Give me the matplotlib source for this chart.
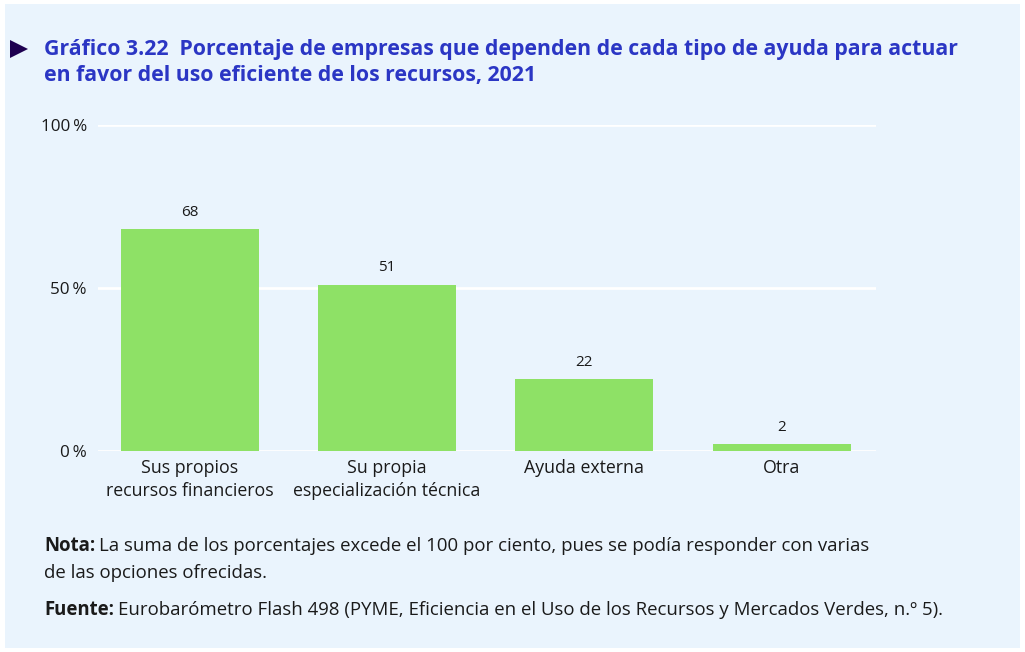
import numpy as np
import matplotlib.pyplot as plt
from matplotlib.patches import Rectangle, Polygon

plt.rcParams['font.family'] = ['Open Sans', 'DejaVu Sans']

# datos
categorias = ['Sus propios\nrecursos financieros', 'Su propia\nespecialización técnica',
              'Ayuda externa', 'Otra']
porcentajes = [68, 51, 22, 2]
ticks_y = [0, 50, 100]
etiquetas_y = ['0\u2009%', '50\u2009%', '100\u2009%']

fondo = '#EAF4FD'
verde = '#8EE166'
azul = '#2B36C4'
texto = '#1a1a1a'

fig = plt.figure(figsize=(10.25, 6.52), dpi=100)
fig.patch.set_facecolor('white')
# panel de fondo
fig.patches.append(Rectangle((5/1025, 4/652), 1015/1025, 644/652, transform=fig.transFigure,
                             facecolor=fondo, edgecolor='none', zorder=-2))
# triangulo del titulo
fig.patches.append(Polygon([(10/1025, 1-40/652), (10/1025, 1-58/652), (28/1025, 1-49/652)],
                           closed=True, transform=fig.transFigure, facecolor='#1E0050',
                           edgecolor='none', zorder=-1))

fig.text(44/1025, 1-50/652, 'Gráfico 3.22  Porcentaje de empresas que dependen de cada tipo de ayuda para actuar',
         fontsize=15.3, fontweight='bold', color=azul, va='center', ha='left')
fig.text(44/1025, 1-76/652, 'en favor del uso eficiente de los recursos, 2021',
         fontsize=15.3, fontweight='bold', color=azul, va='center', ha='left')

ax = fig.add_axes([98/1025, 1-451/652, 778/1025, 326/652])
ax.set_zorder(2)
ax.set_facecolor('none')
x = np.arange(len(categorias))
ax.bar(x, porcentajes, width=0.7, color=verde, zorder=3)
for xi, v in zip(x, porcentajes):
    ax.text(xi, v + 3, str(v), ha='center', va='bottom', fontsize=11, color=texto)

ax.set_xlim(-0.465, 3.478)
ax.set_ylim(0, 100)
ax.set_yticks(ticks_y)
ax.set_yticklabels(etiquetas_y, fontsize=12.3)
ax.set_xticks(x)
ax.set_xticklabels(categorias, linespacing=1.32, fontsize=12.8)
ax.tick_params(axis='both', length=0, labelcolor=texto)
ax.tick_params(axis='y', pad=8)
ax.tick_params(axis='x', pad=6)
for s in ax.spines.values():
    s.set_visible(False)
ax.grid(axis='y', color='white', linewidth=2, zorder=1)

# notas: parte en negrita y resto normal a continuacion
renderer = fig.canvas.get_renderer()
def nota(y, negrita, resto):
    t = fig.text(44/1025, 1-y/652, negrita, fontsize=13.4, fontweight='bold',
                 va='center', ha='left', color=texto)
    bb = t.get_window_extent(renderer)
    fig.text((bb.x1 + 4)/1025, 1-y/652, resto, fontsize=13.4,
             va='center', ha='left', color=texto)

nota(546, 'Nota:', 'La suma de los porcentajes excede el 100 por ciento, pues se podía responder con varias')
fig.text(44/1025, 1-573/652, 'de las opciones ofrecidas.', fontsize=13.4, va='center', ha='left', color=texto)
nota(610, 'Fuente:', 'Eurobarómetro Flash 498 (PYME, Eficiencia en el Uso de los Recursos y Mercados Verdes, n.º 5).')

plt.savefig('out.png', dpi=100, facecolor='white')
